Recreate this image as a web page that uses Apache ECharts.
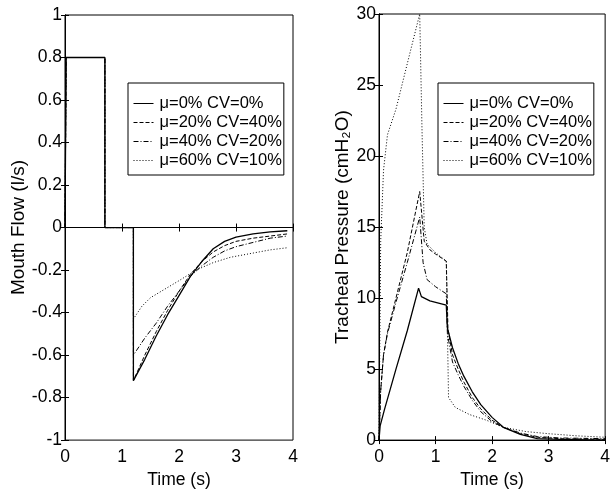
<!DOCTYPE html>
<html>
<head>
<meta charset="utf-8">
<script src="https://cdn.jsdelivr.net/npm/echarts@6/dist/echarts.min.js"></script>
<style>
  html, body { margin: 0; padding: 0; background: #fff; }
  #main { width: 613px; height: 494px; }
</style>
</head>
<body>
<div id="main"></div>
<script>
// legend names
const names = ['μ=0% CV=0%', 'μ=20% CV=40%', 'μ=40% CV=20%', 'μ=60% CV=10%']

// tick labels
const timeTicks = [0, 1, 2, 3, 4]
const flowTicks = [-1, -0.8, -0.6, -0.4, -0.2, 0, 0.2, 0.4, 0.6, 0.8, 1]
const pressTicks = [0, 5, 10, 15, 20, 25, 30]

// mouth flow (l/s): common inspiration + pause, then expiration per case
const flowStart = [[0, 0], [0.02, 0.8], [0.7, 0.8], [0.7, 0], [1.2, 0]]
const flowMu0 = [[1.2, -0.72], [1.4, -0.62], [1.6, -0.51], [1.8, -0.41], [2.0, -0.32], [2.2, -0.23], [2.4, -0.16], [2.6, -0.1], [2.8, -0.065], [3.0, -0.045], [3.3, -0.03], [3.6, -0.02], [3.9, -0.015]]
const flowMu20 = [[1.2, -0.72], [1.4, -0.6], [1.6, -0.49], [1.8, -0.39], [2.0, -0.3], [2.2, -0.22], [2.4, -0.16], [2.6, -0.115], [2.8, -0.085], [3.0, -0.065], [3.3, -0.05], [3.6, -0.04], [3.9, -0.03]]
const flowMu40 = [[1.2, -0.6], [1.4, -0.52], [1.6, -0.45], [1.8, -0.37], [2.0, -0.3], [2.2, -0.23], [2.4, -0.18], [2.6, -0.14], [2.8, -0.11], [3.0, -0.09], [3.3, -0.07], [3.6, -0.05], [3.9, -0.04]]
const flowMu60 = [[1.2, -0.43], [1.35, -0.37], [1.5, -0.33], [1.75, -0.29], [2.0, -0.25], [2.3, -0.2], [2.6, -0.165], [2.9, -0.14], [3.3, -0.12], [3.6, -0.105], [3.9, -0.095]]

// tracheal pressure (cmH2O)
const pressMu0 = [[0, 0], [0.02, 1], [0.1, 2.2], [0.3, 5], [0.5, 7.7], [0.7, 10.7], [0.75, 10.1], [0.9, 9.8], [1.19, 9.5], [1.21, 7.9], [1.3, 6.5], [1.4, 5.4], [1.5, 4.5], [1.65, 3.4], [1.8, 2.5], [2.0, 1.6], [2.2, 0.9], [2.5, 0.4], [2.8, 0.1], [3.2, 0.05], [4, 0]]
const pressMu20 = [[0, 0], [0.03, 3.5], [0.08, 6], [0.15, 7.6], [0.3, 10], [0.5, 13.2], [0.72, 17.5], [0.8, 14], [0.9, 13.4], [1.0, 13.1], [1.19, 12.6], [1.22, 7.8], [1.3, 6.0], [1.4, 5.0], [1.5, 4.1], [1.65, 3.0], [1.8, 2.2], [2.0, 1.4], [2.2, 0.9], [2.5, 0.45], [2.8, 0.2], [3.2, 0.1], [4, 0.05]]
const pressMu40 = [[0, 0], [0.03, 3.5], [0.08, 6], [0.15, 7.5], [0.3, 9.7], [0.5, 12.5], [0.72, 15.7], [0.78, 12.5], [0.85, 11.3], [1.0, 10.8], [1.19, 10.3], [1.21, 7.5], [1.3, 5.5], [1.4, 4.6], [1.5, 3.8], [1.65, 2.8], [1.8, 2.0], [2.0, 1.3], [2.2, 0.9], [2.5, 0.5], [2.8, 0.25], [3.2, 0.15], [4, 0.1]]
const pressMu60 = [[0, 0], [0.03, 14], [0.08, 19], [0.15, 21.5], [0.3, 23.3], [0.5, 26.5], [0.72, 30], [0.76, 22], [0.8, 15], [0.85, 13.8], [1.0, 13.2], [1.19, 12.6], [1.23, 3.0], [1.35, 2.3], [1.6, 1.8], [1.9, 1.4], [2.2, 0.9], [2.6, 0.6], [3.0, 0.45], [3.5, 0.3], [4, 0.2]]

const lineTypes = ['solid', [4, 2], [5, 2, 1, 2], [1, 2]]
const font = 'Liberation Sans, Arial, sans-serif'

const myChart = echarts.init(document.getElementById('main'))

function axisX(grid, top) {
	return {
		type: 'value', gridIndex: grid, position: top ? 'top' : 'bottom',
		min: timeTicks[0], max: timeTicks[timeTicks.length - 1], interval: 1,
		name: top ? '' : 'Time (s)', nameLocation: 'middle', nameGap: 27,
		nameTextStyle: { fontSize: 17.5, color: '#000', fontFamily: font },
		axisLine: { lineStyle: { color: '#000', width: 1 } },
		axisTick: { inside: true, length: 4, lineStyle: { color: '#000' } },
		axisLabel: { show: !top, fontSize: 17.5, color: '#000', fontFamily: font, margin: 8 },
		splitLine: { show: false }
	}
}

function axisY(grid, right, ticks, name, gap, fs) {
	return {
		type: 'value', gridIndex: grid, position: right ? 'right' : 'left',
		min: ticks[0], max: ticks[ticks.length - 1], interval: grid === 0 ? 0.2 : 5,
		name: right ? '' : name, nameLocation: 'middle', nameGap: gap,
		nameTextStyle: { fontSize: fs, color: '#000', fontFamily: font },
		axisLine: { lineStyle: { color: '#000', width: 1 } },
		axisTick: { inside: true, length: 4, lineStyle: { color: '#000' } },
		axisLabel: { show: !right, fontSize: 17.5, color: '#000', fontFamily: font, margin: 3 },
		splitLine: { show: false }
	}
}

const flowData = [flowMu0, flowMu20, flowMu40, flowMu60].map(d => flowStart.concat(d))
const pressData = [pressMu0, pressMu20, pressMu40, pressMu60]

const series = []
names.forEach((n, i) => {
	series.push({
		name: n, type: 'line', xAxisIndex: 0, yAxisIndex: 0,
		data: flowData[i], symbol: 'none', animation: false,
		lineStyle: { color: '#000', width: i === 0 ? 1.3 : 1, type: lineTypes[i] },
		itemStyle: { color: '#000' }
	})
	series.push({
		name: n, type: 'line', xAxisIndex: 2, yAxisIndex: 2,
		data: pressData[i], symbol: 'none', animation: false,
		lineStyle: { color: '#000', width: i === 0 ? 1.3 : 1, type: lineTypes[i] },
		itemStyle: { color: '#000' }
	})
})

function legendBox(left) {
	return {
		data: names, orient: 'vertical', left: left, top: 83,
		padding: [12, 2, 6, 5], itemGap: 2, itemWidth: 20, itemHeight: 16,
		borderColor: '#000', borderWidth: 1, backgroundColor: '#fff',
		selectedMode: false,
		itemStyle: { opacity: 0 },
		lineStyle: { width: 1 },
		textStyle: { fontSize: 16.5, color: '#000', fontFamily: font, padding: [0, 0, 0, 1] }
	}
}

const option = {
	animation: false,
	grid: [
		{ left: 65, right: 320, top: 15, bottom: 50, show: true, borderColor: '#000', borderWidth: 1 },
		{ left: 379, right: 6, top: 14, bottom: 51, show: true, borderColor: '#000', borderWidth: 1 }
	],
	xAxis: [axisX(0, false), axisX(0, true), axisX(1, false), axisX(1, true)],
	yAxis: [
		axisY(0, false, flowTicks, 'Mouth Flow (l/s)', 35, 19),
		axisY(0, true, flowTicks, '', 0, 19),
		axisY(1, false, pressTicks, 'Tracheal Pressure (cmH₂O)', 27, 19),
		axisY(1, true, pressTicks, '', 0, 19)
	],
	legend: [legendBox(128), legendBox(438)],
	series: series
}
myChart.setOption(option)
</script>
</body>
</html>
